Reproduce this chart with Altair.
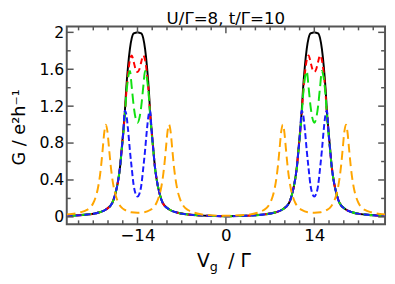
import altair as alt
import pandas as pd

# ---- data ----
X_MAIN = [-25.2, -22, -20, -19, -18, -17.55, -17.05, -16.75, -16.5, -16.25, -16.0, -15.8, -15.5,
          -15.2, -14.9, -14.6, -14.3, -14, -13.7, -13.4, -13.1, -12.8, -12.5, -12.2, -12.0, -11.75,
          -11.5, -11.25, -10.95, -10.45, -10, -8.95, -7.9, -5.95, -3, 0,
          3, 5.95, 7.9, 8.95, 10, 10.45, 10.95, 11.25, 11.5, 11.75, 12.0, 12.2, 12.5, 12.8, 13.1,
          13.4, 13.7, 14, 14.3, 14.6, 14.9, 15.2, 15.5, 15.8, 16.0, 16.25, 16.5, 16.75, 17.05,
          17.55, 18, 19, 20, 22, 25.2]

G_BLACK = [0.012, 0.025, 0.05, 0.08, 0.15, 0.24, 0.40, 0.55, 0.74, 0.93, 1.14, 1.37, 1.63, 1.82,
           1.94, 1.99, 1.995, 2.0, 1.995, 1.99, 1.94, 1.82, 1.63, 1.37, 1.14, 0.93, 0.74, 0.55,
           0.40, 0.24, 0.15, 0.08, 0.05, 0.025, 0.012, 0.007,
           0.012, 0.025, 0.05, 0.08, 0.15, 0.24, 0.40, 0.55, 0.74, 0.93, 1.14, 1.37, 1.63, 1.82,
           1.94, 1.99, 1.995, 2.0, 1.995, 1.99, 1.94, 1.82, 1.63, 1.37, 1.14, 0.93, 0.74, 0.55,
           0.40, 0.24, 0.15, 0.08, 0.05, 0.025, 0.012]

G_RED = [0.012, 0.025, 0.05, 0.08, 0.15, 0.24, 0.40, 0.55, 0.73, 0.91, 1.11, 1.32, 1.55, 1.70,
         1.75, 1.68, 1.60, 1.57, 1.60, 1.68, 1.75, 1.70, 1.55, 1.32, 1.11, 0.91, 0.73, 0.55,
         0.40, 0.24, 0.15, 0.08, 0.05, 0.025, 0.012, 0.007,
         0.012, 0.025, 0.05, 0.08, 0.15, 0.24, 0.40, 0.55, 0.73, 0.91, 1.11, 1.32, 1.55, 1.70,
         1.75, 1.68, 1.60, 1.57, 1.60, 1.68, 1.75, 1.70, 1.55, 1.32, 1.11, 0.91, 0.73, 0.55,
         0.40, 0.24, 0.15, 0.08, 0.05, 0.025, 0.012]

G_GREEN = [0.012, 0.025, 0.05, 0.08, 0.15, 0.24, 0.40, 0.54, 0.72, 0.90, 1.10, 1.30, 1.50, 1.58,
           1.40, 1.20, 1.07, 1.02, 1.07, 1.20, 1.40, 1.58, 1.50, 1.30, 1.10, 0.90, 0.72, 0.54,
           0.40, 0.24, 0.15, 0.08, 0.05, 0.025, 0.012, 0.007,
           0.012, 0.025, 0.05, 0.08, 0.15, 0.24, 0.40, 0.54, 0.72, 0.90, 1.10, 1.30, 1.50, 1.58,
           1.40, 1.20, 1.07, 1.02, 1.07, 1.20, 1.40, 1.58, 1.50, 1.30, 1.10, 0.90, 0.72, 0.54,
           0.40, 0.24, 0.15, 0.08, 0.05, 0.025, 0.012]

G_BLUE = [0.012, 0.025, 0.05, 0.08, 0.15, 0.24, 0.40, 0.55, 0.73, 0.92, 1.15, 1.12, 0.95, 0.72,
          0.52, 0.34, 0.25, 0.22, 0.25, 0.34, 0.52, 0.72, 0.95, 1.12, 1.15, 0.92, 0.73, 0.55,
          0.40, 0.24, 0.15, 0.08, 0.05, 0.025, 0.012, 0.007,
          0.012, 0.025, 0.05, 0.08, 0.15, 0.24, 0.40, 0.55, 0.73, 0.92, 1.15, 1.12, 0.95, 0.72,
          0.52, 0.34, 0.25, 0.22, 0.25, 0.34, 0.52, 0.72, 0.95, 1.12, 1.15, 0.92, 0.73, 0.55,
          0.40, 0.24, 0.15, 0.08, 0.05, 0.025, 0.012]

X_ORANGE = [-25.2, -23, -22, -21.5, -21, -20.6, -20.3, -20, -19.75, -19.5, -19.25, -19, -18.75,
            -18.5, -18.25, -18, -17.7, -17.4, -17, -16.5, -16, -15, -14, -13, -12, -11.5, -11,
            -10.6, -10.3, -10, -9.75, -9.5, -9.25, -9, -8.75, -8.5, -8.25, -8, -7.7, -7.4, -7,
            -6.5, -6, -5, -3, 0,
            3, 5, 6, 6.5, 7, 7.4, 7.7, 8, 8.25, 8.5, 8.75, 9, 9.25, 9.5, 9.75, 10, 10.3, 10.6,
            11, 11.5, 12, 13, 14, 15, 16, 16.5, 17, 17.4, 17.7, 18, 18.25, 18.5, 18.75, 19, 19.25,
            19.5, 19.75, 20, 20.3, 20.6, 21, 21.5, 22, 23, 25.2]
G_ORANGE = [0.025, 0.05, 0.075, 0.10, 0.15, 0.22, 0.30, 0.42, 0.56, 0.74, 0.92, 1.0, 0.92, 0.74,
            0.56, 0.42, 0.30, 0.22, 0.15, 0.10, 0.075, 0.05, 0.045, 0.05, 0.075, 0.10, 0.15, 0.22,
            0.30, 0.42, 0.56, 0.74, 0.92, 1.0, 0.92, 0.74, 0.56, 0.42, 0.30, 0.22, 0.15, 0.10,
            0.075, 0.045, 0.02, 0.012,
            0.02, 0.045, 0.075, 0.10, 0.15, 0.22, 0.30, 0.42, 0.56, 0.74, 0.92, 1.0, 0.92, 0.74,
            0.56, 0.42, 0.30, 0.22, 0.15, 0.10, 0.075, 0.05, 0.045, 0.05, 0.075, 0.10, 0.15, 0.22,
            0.30, 0.42, 0.56, 0.74, 0.92, 1.0, 0.92, 0.74, 0.56, 0.42, 0.30, 0.22, 0.15, 0.10,
            0.075, 0.05, 0.025]

X_TICKS_MAJOR = [-14, 0, 14]
X_TICKS_MINOR = [-23.33, -21, -18.67, -16.33, -11.67, -9.33, -7, -4.67, -2.33,
                 2.33, 4.67, 7, 9.33, 11.67, 16.33, 18.67, 21, 23.33]
Y_TICKS_MAJOR = [0, 0.4, 0.8, 1.2, 1.6, 2]
Y_TICKS_MINOR = [0.2, 0.6, 1.0, 1.4, 1.8]

TITLE = "U/Γ=8, t/Γ=10"
Y_TITLE = "G / e²h⁻¹"

# ---- layout ----
W, H = 325, 202
FONT = "DejaVu Sans"
FRAME = "#555555"
xscale = alt.Scale(domain=[-25.2, 25.2], nice=False, zero=False)
yscale = alt.Scale(domain=[-0.08, 2.064], nice=False, zero=False)

xaxis = alt.Axis(values=X_TICKS_MAJOR, ticks=False, domain=False, grid=False, title=None,
                 labelFontSize=17, labelFont=FONT, labelColor="black", labelPadding=4,
                 labelFlush=False, labelOverlap=False)
yaxis = alt.Axis(values=Y_TICKS_MAJOR, format="~g", ticks=False, domain=False, grid=False,
                 title=None, labelFontSize=16, labelFont=FONT, labelColor="black",
                 labelPadding=3, labelFlush=False, labelOverlap=False)


def curve(xs, ys, color, dash=None):
    df = pd.DataFrame({"x": xs, "y": ys})
    kw = dict(color=color, strokeWidth=2, interpolate="monotone", clip=True)
    if dash:
        kw["strokeDash"] = dash
    return alt.Chart(df).mark_line(**kw).encode(
        x=alt.X("x:Q", scale=xscale, axis=xaxis),
        y=alt.Y("y:Q", scale=yscale, axis=yaxis),
    )


def xticks(vals, length, top=False):
    df = pd.DataFrame({"x": vals})
    y0, y1 = (0, length) if top else (H, H - length)
    return alt.Chart(df).mark_rule(color=FRAME, strokeWidth=1.5).encode(
        x=alt.X("x:Q", scale=xscale, axis=xaxis), y=alt.value(y0), y2=alt.value(y1))


def yticks(vals, length, right=False):
    df = pd.DataFrame({"y": vals})
    x0, x1 = (W, W - length) if right else (0, length)
    return alt.Chart(df).mark_rule(color=FRAME, strokeWidth=1.5).encode(
        y=alt.Y("y:Q", scale=yscale, axis=yaxis), x=alt.value(x0), x2=alt.value(x1))


def label(text, x, y, size, align="left", angle=0, baseline="alphabetic"):
    df = pd.DataFrame({"t": [text]})
    kw = dict(font=FONT, fontSize=size, color="black", align=align, baseline=baseline)
    if angle:
        kw["angle"] = angle
    return alt.Chart(df).mark_text(**kw).encode(
        text="t:N", x=alt.value(x), y=alt.value(y))


layers = [
    curve(X_MAIN, G_BLACK, "#000000"),
    curve(X_MAIN, G_RED, "#ff0000", [6, 4]),
    curve(X_MAIN, G_GREEN, "#11e011", [10, 5]),
    curve(X_MAIN, G_BLUE, "#1a1aff", [6, 3]),
    curve(X_ORANGE, G_ORANGE, "#ffa500", [9, 5]),
    xticks(X_TICKS_MAJOR, 7), xticks(X_TICKS_MINOR, 4),
    xticks(X_TICKS_MAJOR, 7, top=True), xticks(X_TICKS_MINOR, 4, top=True),
    yticks(Y_TICKS_MAJOR, 7), yticks(Y_TICKS_MINOR, 4),
    yticks(Y_TICKS_MAJOR, 7, right=True), yticks(Y_TICKS_MINOR, 4, right=True),
    label(TITLE, W / 2, -3, 17, align="center"),
    label(Y_TITLE, -48, H / 2 + 2, 18, align="center", angle=270, baseline="middle"),
    label("V", 133, 246, 19),
    label("g", 146, 250, 13),
    label("/ Γ", 165, 246, 19),
]

chart = alt.layer(*layers).properties(
    width=W, height=H,
    autosize=alt.AutoSizeParams(type="none"),
    padding={"left": 60, "top": 16, "right": 2, "bottom": 50},
).configure_view(stroke=FRAME, strokeWidth=2)

chart.save("out.html", embed_options={"renderer": "svg", "actions": False})
